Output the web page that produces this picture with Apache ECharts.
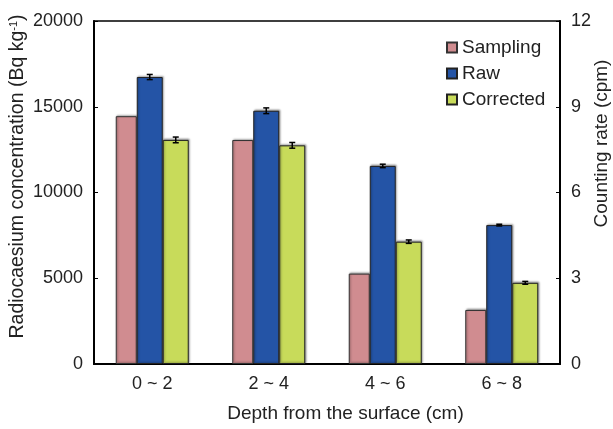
<!DOCTYPE html>
<html>
<head>
<meta charset="utf-8">
<script src="https://cdn.jsdelivr.net/npm/echarts@6/dist/echarts.min.js"></script>
<style>
  html, body { margin: 0; padding: 0; background: #fff; }
  #chart { width: 613px; height: 429px; }
</style>
</head>
<body>
<div id="chart"></div>
<script>
var depths = ['0 ~ 2', '2 ~ 4', '4 ~ 6', '6 ~ 8'];
var sampling = [14450, 13060, 5270, 3150];      // Bq/kg, left axis
var raw = [10.04, 8.86, 6.93, 4.86];             // cpm, right axis
var rawErr = [0.09, 0.1, 0.06, 0.03];
var corrected = [7.84, 7.65, 4.28, 2.84];        // cpm, right axis
var correctedErr = [0.1, 0.1, 0.06, 0.05];
var leftTicks = { min: 0, max: 20000, interval: 5000 };
var rightTicks = { min: 0, max: 12, interval: 3 };

var font = 'Liberation Sans, Arial, sans-serif';
var chart = echarts.init(document.getElementById('chart'));

// error bar drawn at a fixed offset from the category centre (matches the bar layout below)
function errorBars(offset) {
    return function (params, api) {
        var i = api.value(0), v = api.value(1), e = api.value(2);
        var hi = api.coord([i, v + e]);
        var lo = api.coord([i, v - e]);
        var x = hi[0] + offset, w = 3;
        var st = { stroke: '#000', lineWidth: 1.5 };
        return {
            type: 'group',
            children: [
                { type: 'line', shape: { x1: x, y1: hi[1], x2: x, y2: lo[1] }, style: st },
                { type: 'line', shape: { x1: x - w, y1: hi[1], x2: x + w, y2: hi[1] }, style: st },
                { type: 'line', shape: { x1: x - w, y1: lo[1], x2: x + w, y2: lo[1] }, style: st }
            ]
        };
    };
}

function errData(vals, errs) {
    return vals.map(function (v, i) { return [i, v, errs[i]]; });
}

var barShadow = { shadowColor: 'rgba(0,0,0,0.35)', shadowBlur: 2, shadowOffsetX: 1, shadowOffsetY: -1 };

var option = {
    animation: false,
    textStyle: { fontFamily: font },
    grid: {
        left: 94, right: 53, top: 21, bottom: 65,
        outerBoundsMode: 'none', containLabel: false,
        show: true, borderColor: '#000', borderWidth: 1.5
    },
    legend: {
        data: ['Sampling', 'Raw', 'Corrected'],
        orient: 'vertical',
        left: 441, top: 33,
        icon: 'rect', itemWidth: 10, itemHeight: 10, itemGap: 7,
        textStyle: { fontFamily: font, fontSize: 19, color: '#222' }
    },
    xAxis: {
        type: 'category',
        data: depths,
        name: 'Depth from the surface (cm)',
        nameLocation: 'middle',
        nameGap: 40,
        nameMoveOverlap: false,
        nameTextStyle: { fontSize: 19, color: '#222', padding: [0, 0, 0, 37] },
        axisLine: { lineStyle: { color: '#000', width: 2 } },
        axisTick: { show: false },
        axisLabel: { fontSize: 18, color: '#222', margin: 11 }
    },
    yAxis: [{
        type: 'value',
        min: leftTicks.min, max: leftTicks.max, interval: leftTicks.interval,
        name: '{a|Radiocaesium concentration (Bq kg}{s|-1}{a|)}',
        nameLocation: 'middle',
        nameGap: 66,
        nameRotate: 90,
        nameMoveOverlap: false,
        nameTextStyle: {
            padding: [0, 0, 0, 32],
            rich: {
                a: { fontSize: 19.5, color: '#222', fontFamily: font },
                s: { fontSize: 11, color: '#222', fontFamily: font, verticalAlign: 'top', padding: [0, 0, 8, 0] }
            }
        },
        axisLine: { show: true, lineStyle: { color: '#000', width: 2 } },
        axisTick: { show: true, inside: true, length: 4, lineStyle: { color: '#000' } },
        axisLabel: { fontSize: 18, color: '#222', margin: 11, formatter: function (v) { return String(v); } },
        splitLine: { show: false }
    }, {
        type: 'value',
        position: 'right',
        min: rightTicks.min, max: rightTicks.max, interval: rightTicks.interval,
        name: 'Counting rate (cpm)',
        nameLocation: 'middle',
        nameGap: 32,
        nameRotate: 90,
        nameMoveOverlap: false,
        nameTextStyle: { fontSize: 19, color: '#222', padding: [0, 0, 0, 98] },
        axisLine: { show: true, lineStyle: { color: '#000', width: 2 } },
        axisTick: { show: true, inside: true, length: 4, lineStyle: { color: '#000' } },
        axisLabel: { fontSize: 18, color: '#222', margin: 11 },
        splitLine: { show: false }
    }],
    series: [{
        name: 'Sampling', type: 'bar', yAxisIndex: 0, data: sampling,
        barWidth: 21, barGap: '0%',
        itemStyle: Object.assign({ color: '#D08C90', borderColor: '#333', borderWidth: 1 }, barShadow)
    }, {
        name: 'Raw', type: 'bar', yAxisIndex: 1, data: raw,
        barWidth: 26, barGap: '0%',
        itemStyle: Object.assign({ color: '#2454A6', borderColor: '#222', borderWidth: 1 }, barShadow)
    }, {
        name: 'Corrected', type: 'bar', yAxisIndex: 1, data: corrected,
        barWidth: 26, barGap: '0%',
        itemStyle: Object.assign({ color: '#C8DB5A', borderColor: '#222', borderWidth: 1 }, barShadow)
    }, {
        name: 'RawErr', type: 'custom', yAxisIndex: 1, z: 10,
        renderItem: errorBars(-2.5), data: errData(raw, rawErr)
    }, {
        name: 'CorrectedErr', type: 'custom', yAxisIndex: 1, z: 10,
        renderItem: errorBars(23.5), data: errData(corrected, correctedErr)
    }]
};
chart.setOption(option);
</script>
</body>
</html>
